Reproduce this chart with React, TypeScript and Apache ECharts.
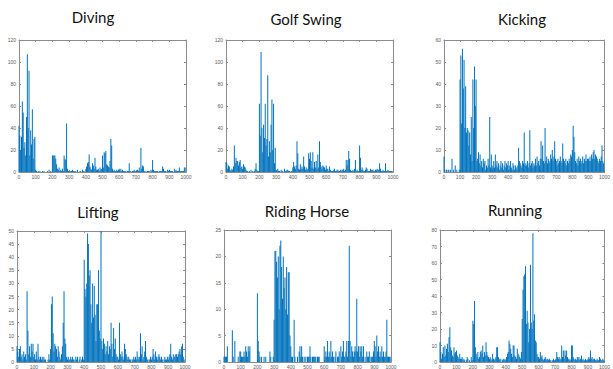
import React, { useEffect, useRef } from "react";
import * as echarts from "echarts";

// Sample spacing along the x axis (frame index step)
const STEP = 5;

const titles = ["Diving", "Golf Swing", "Kicking", "Lifting", "Riding Horse", "Running"];

const divingValues = [
  42, 33, 20, 32, 64, 54, 22, 27, 15, 50,
  107, 40, 92, 15, 38, 25, 57, 12, 30, 32,
  2, 1, 0, 1, 0, 1, 0, 0, 1, 0,
  1, 0, 0, 0, 1, 0, 2, 0, 1, 0,
  15, 15, 15, 15, 12, 7, 3, 2, 4, 1,
  2, 1, 3, 1, 15, 12, 11, 44, 3, 1,
  1, 0, 1, 1, 2, 1, 1, 0, 1, 0,
  2, 0, 0, 1, 1, 0, 2, 1, 1, 0,
  3, 5, 8, 9, 16, 5, 3, 2, 8, 6,
  3, 13, 5, 2, 2, 3, 1, 4, 2, 3,
  15, 4, 18, 17, 19, 7, 6, 5, 4, 10,
  30, 24, 3, 1, 2, 1, 1, 2, 1, 2,
  3, 1, 3, 1, 2, 1, 1, 1, 1, 0,
  1, 1, 8, 1, 1, 0, 1, 1, 2, 1,
  1, 1, 2, 1, 4, 1, 22, 3, 6, 5,
  1, 0, 1, 0, 1, 1, 1, 0, 2, 1,
  11, 2, 1, 1, 1, 1, 1, 0, 1, 1,
  1, 1, 5, 3, 1, 1, 1, 0, 2, 1,
  2, 1, 1, 1, 1, 0, 3, 1, 2, 1,
  1, 1, 4, 1, 1, 1, 1, 1, 4, 4,
];

const golfValues = [
  9, 8, 3, 6, 5, 2, 1, 3, 2, 5,
  24, 8, 13, 10, 10, 6, 9, 11, 4, 5,
  3, 7, 5, 4, 2, 1, 1, 0, 1, 0,
  2, 0, 1, 0, 1, 3, 8, 2, 1, 1,
  62, 33, 109, 40, 18, 43, 31, 62, 24, 30,
  88, 14, 28, 18, 43, 66, 20, 62, 8, 22,
  2, 1, 3, 1, 1, 0, 2, 1, 1, 0,
  3, 1, 1, 2, 2, 1, 1, 0, 1, 1,
  4, 9, 5, 3, 6, 28, 17, 3, 2, 7,
  3, 5, 3, 14, 5, 2, 4, 2, 3, 17,
  12, 18, 10, 4, 18, 3, 9, 4, 10, 3,
  16, 4, 28, 9, 5, 3, 6, 5, 4, 2,
  6, 3, 3, 1, 5, 2, 1, 1, 1, 2,
  3, 1, 1, 2, 2, 1, 1, 2, 1, 2,
  2, 3, 1, 2, 11, 6, 11, 19, 12, 2,
  1, 1, 2, 1, 3, 11, 1, 2, 1, 1,
  24, 13, 2, 4, 2, 1, 1, 2, 4, 3,
  1, 1, 1, 3, 2, 2, 2, 1, 1, 2,
  1, 3, 2, 2, 8, 3, 1, 1, 2, 1,
  1, 8, 1, 1, 2, 1, 1, 1, 1, 1,
];

const kickingValues = [
  7, 1, 0, 1, 0, 1, 1, 0, 1, 0,
  6, 0, 1, 0, 3, 0, 1, 0, 0, 1,
  42, 53, 22, 56, 38, 51, 20, 39, 18, 20,
  19, 12, 18, 8, 25, 5, 42, 20, 48, 30,
  42, 5, 6, 9, 4, 8, 3, 5, 2, 6,
  4, 5, 1, 3, 2, 6, 3, 25, 2, 8,
  3, 2, 5, 2, 8, 3, 5, 2, 4, 1,
  3, 5, 2, 4, 1, 3, 5, 2, 4, 3,
  5, 1, 3, 5, 2, 1, 4, 3, 1, 3,
  2, 1, 3, 11, 5, 4, 3, 2, 5, 4,
  18, 3, 4, 3, 5, 2, 4, 19, 3, 4,
  5, 2, 4, 3, 6, 3, 7, 4, 5, 3,
  6, 14, 6, 12, 5, 4, 20, 5, 7, 4,
  6, 5, 4, 8, 6, 10, 5, 7, 14, 6,
  5, 3, 6, 4, 5, 7, 5, 4, 13, 6,
  5, 4, 6, 3, 5, 4, 6, 5, 8, 7,
  10, 21, 16, 9, 5, 4, 6, 3, 7, 5,
  6, 4, 5, 7, 4, 6, 5, 8, 5, 6,
  6, 5, 7, 5, 8, 6, 9, 10, 6, 8,
  7, 6, 5, 4, 6, 5, 7, 12, 5, 4,
];

const liftingValues = [
  6, 4, 2, 5, 6, 2, 3, 1, 4, 2,
  3, 1, 27, 12, 3, 6, 2, 7, 4, 7,
  2, 3, 1, 4, 1, 7, 2, 1, 2, 1,
  2, 1, 2, 1, 1, 0, 0, 1, 3, 1,
  5, 22, 25, 11, 4, 7, 6, 5, 2, 6,
  4, 2, 1, 3, 6, 15, 27, 9, 7, 2,
  1, 2, 1, 1, 2, 1, 2, 1, 1, 0,
  2, 1, 2, 0, 1, 2, 0, 1, 2, 1,
  39, 28, 25, 30, 49, 45, 33, 35, 22, 15,
  30, 17, 29, 18, 8, 22, 22, 35, 12, 9,
  50, 8, 5, 9, 7, 3, 6, 4, 8, 3,
  6, 5, 15, 7, 2, 13, 5, 9, 3, 2,
  2, 1, 15, 3, 2, 4, 2, 1, 7, 5,
  3, 2, 1, 2, 1, 1, 0, 1, 1, 2,
  1, 2, 1, 4, 2, 1, 2, 11, 3, 6,
  1, 2, 4, 8, 2, 1, 1, 0, 1, 2,
  1, 2, 5, 3, 1, 4, 2, 1, 2, 3,
  2, 1, 2, 1, 0, 1, 2, 1, 1, 2,
  1, 2, 3, 7, 2, 1, 3, 2, 2, 3,
  3, 2, 3, 4, 5, 3, 6, 7, 2, 1,
];

const ridingValues = [
  1, 1, 1, 1, 3, 0, 0, 0, 0, 0,
  6, 1, 0, 4, 0, 0, 0, 1, 0, 2,
  2, 1, 1, 1, 2, 1, 3, 2, 1, 3,
  2, 3, 0, 0, 0, 0, 0, 0, 0, 0,
  13, 4, 2, 1, 0, 1, 0, 0, 1, 0,
  1, 0, 0, 0, 0, 2, 1, 0, 0, 1,
  8, 21, 21, 19, 16, 20, 10, 22, 23, 18,
  12, 20, 14, 16, 10, 18, 9, 17, 17, 5,
  3, 1, 1, 0, 8, 1, 0, 0, 1, 0,
  2, 3, 1, 3, 1, 0, 1, 0, 1, 0,
  1, 1, 1, 3, 1, 0, 1, 1, 1, 1,
  1, 0, 1, 1, 1, 0, 0, 0, 0, 0,
  3, 1, 2, 1, 4, 1, 2, 1, 4, 1,
  2, 1, 0, 1, 2, 0, 1, 1, 2, 0,
  3, 1, 2, 4, 1, 1, 2, 4, 1, 4,
  22, 4, 1, 3, 2, 1, 2, 3, 2, 12,
  2, 3, 1, 3, 2, 3, 1, 3, 0, 1,
  0, 2, 1, 1, 2, 0, 1, 1, 1, 2,
  4, 3, 1, 5, 2, 3, 1, 2, 1, 3,
  1, 2, 1, 1, 2, 8, 1, 1, 1, 1,
];

const runningValues = [
  12, 6, 2, 5, 9, 3, 10, 4, 8, 11,
  6, 15, 21, 9, 7, 4, 3, 9, 5, 6,
  7, 4, 3, 2, 5, 2, 2, 3, 1, 2,
  1, 0, 1, 3, 2, 0, 1, 0, 3, 1,
  25, 23, 37, 9, 5, 3, 6, 2, 3, 6,
  7, 5, 10, 3, 6, 4, 12, 6, 4, 3,
  2, 3, 2, 1, 5, 2, 1, 2, 3, 9,
  9, 3, 2, 1, 2, 0, 1, 2, 1, 2,
  1, 3, 5, 6, 13, 11, 8, 5, 3, 10,
  10, 4, 3, 2, 8, 5, 4, 3, 2, 6,
  26, 44, 52, 53, 58, 23, 31, 24, 12, 20,
  59, 24, 20, 78, 25, 29, 13, 12, 5, 3,
  3, 2, 6, 3, 4, 2, 1, 2, 3, 2,
  1, 2, 1, 2, 1, 1, 0, 1, 2, 1,
  1, 2, 6, 3, 2, 3, 1, 2, 10, 3,
  7, 2, 7, 4, 7, 3, 2, 1, 2, 1,
  10, 10, 3, 2, 1, 2, 1, 3, 2, 3,
  1, 2, 4, 1, 2, 1, 1, 2, 1, 1,
  2, 3, 2, 7, 2, 3, 1, 2, 2, 1,
  1, 2, 1, 1, 3, 2, 1, 1, 2, 1,
];

const seriesValues = [divingValues, golfValues, kickingValues, liftingValues, ridingValues, runningValues];
const yMaxes = [120, 120, 60, 50, 25, 80];
const yIntervals = [20, 20, 10, 5, 5, 10];
const xMax = 1000;
const xInterval = 100;

// layout (pixels)
const grids = [
  { left: 19, top: 40, width: 167, height: 132 },
  { left: 226, top: 40, width: 167, height: 132 },
  { left: 444, top: 40, width: 167, height: 132 },
  { left: 17, top: 231, width: 168, height: 132 },
  { left: 224, top: 230, width: 167, height: 132 },
  { left: 440, top: 230, width: 167, height: 132 },
];
const titlePos = [
  [93, 17], [306, 19], [522, 19], [98, 212], [307, 211], [515, 210],
];

const BAR = "#0072BD";
const BOX = "#8c8c8c";
const LBL = "#5a5a5a";

export default function App() {
  const ref = useRef<HTMLDivElement>(null);
  useEffect(() => {
    if (!ref.current) return;
    const chart = echarts.init(ref.current, undefined, { renderer: "svg" });
    const xAxis: any[] = [];
    const yAxis: any[] = [];
    const series: any[] = [];
    const graphic: any[] = [];
    grids.forEach((g, i) => {
      const common = {
        gridIndex: i,
        type: "value",
        axisLine: { show: true, onZero: false, lineStyle: { color: BOX, width: 1 } },
        axisTick: { show: true, inside: true, length: 2, lineStyle: { color: BOX } },
        splitLine: { show: false },
      };
      xAxis.push({
        ...common,
        position: "bottom",
        min: 0,
        max: xMax,
        interval: xInterval,
        axisLabel: {
          fontSize: 5,
          color: LBL,
          margin: 2,
          fontFamily: "Liberation Sans",
          formatter: (v: number) => String(v),
        },
      });
      xAxis.push({
        ...common,
        position: "top",
        min: 0,
        max: xMax,
        interval: xInterval,
        axisLabel: { show: false },
      });
      yAxis.push({
        ...common,
        position: "left",
        min: 0,
        max: yMaxes[i],
        interval: yIntervals[i],
        axisLabel: { fontSize: 5, color: LBL, margin: 3, fontFamily: "Liberation Sans" },
      });
      yAxis.push({
        ...common,
        position: "right",
        min: 0,
        max: yMaxes[i],
        interval: yIntervals[i],
        axisLabel: { show: false },
      });
      series.push({
        type: "bar",
        xAxisIndex: i * 2,
        yAxisIndex: i * 2,
        barWidth: 1,
        itemStyle: { color: BAR, opacity: 1 },
        data: seriesValues[i].map((v, k) => [k * STEP, v]),
      });
      graphic.push({
        type: "text",
        x: titlePos[i][0],
        y: titlePos[i][1],
        style: {
          text: titles[i],
          fontSize: 15,
          fontFamily: "Lato",
          fill: "#111",
          align: "center",
          verticalAlign: "middle",
        },
      });
    });
    chart.setOption({
      animation: false,
      backgroundColor: "#ffffff",
      grid: grids.map((g) => ({ ...g, containLabel: false })),
      xAxis,
      yAxis,
      series,
      graphic,
    });
    return () => chart.dispose();
  }, []);
  return (
    <div
      ref={ref}
      style={{ position: "fixed", left: 0, top: 0, width: 613, height: 369, background: "#fff" }}
    />
  );
}
